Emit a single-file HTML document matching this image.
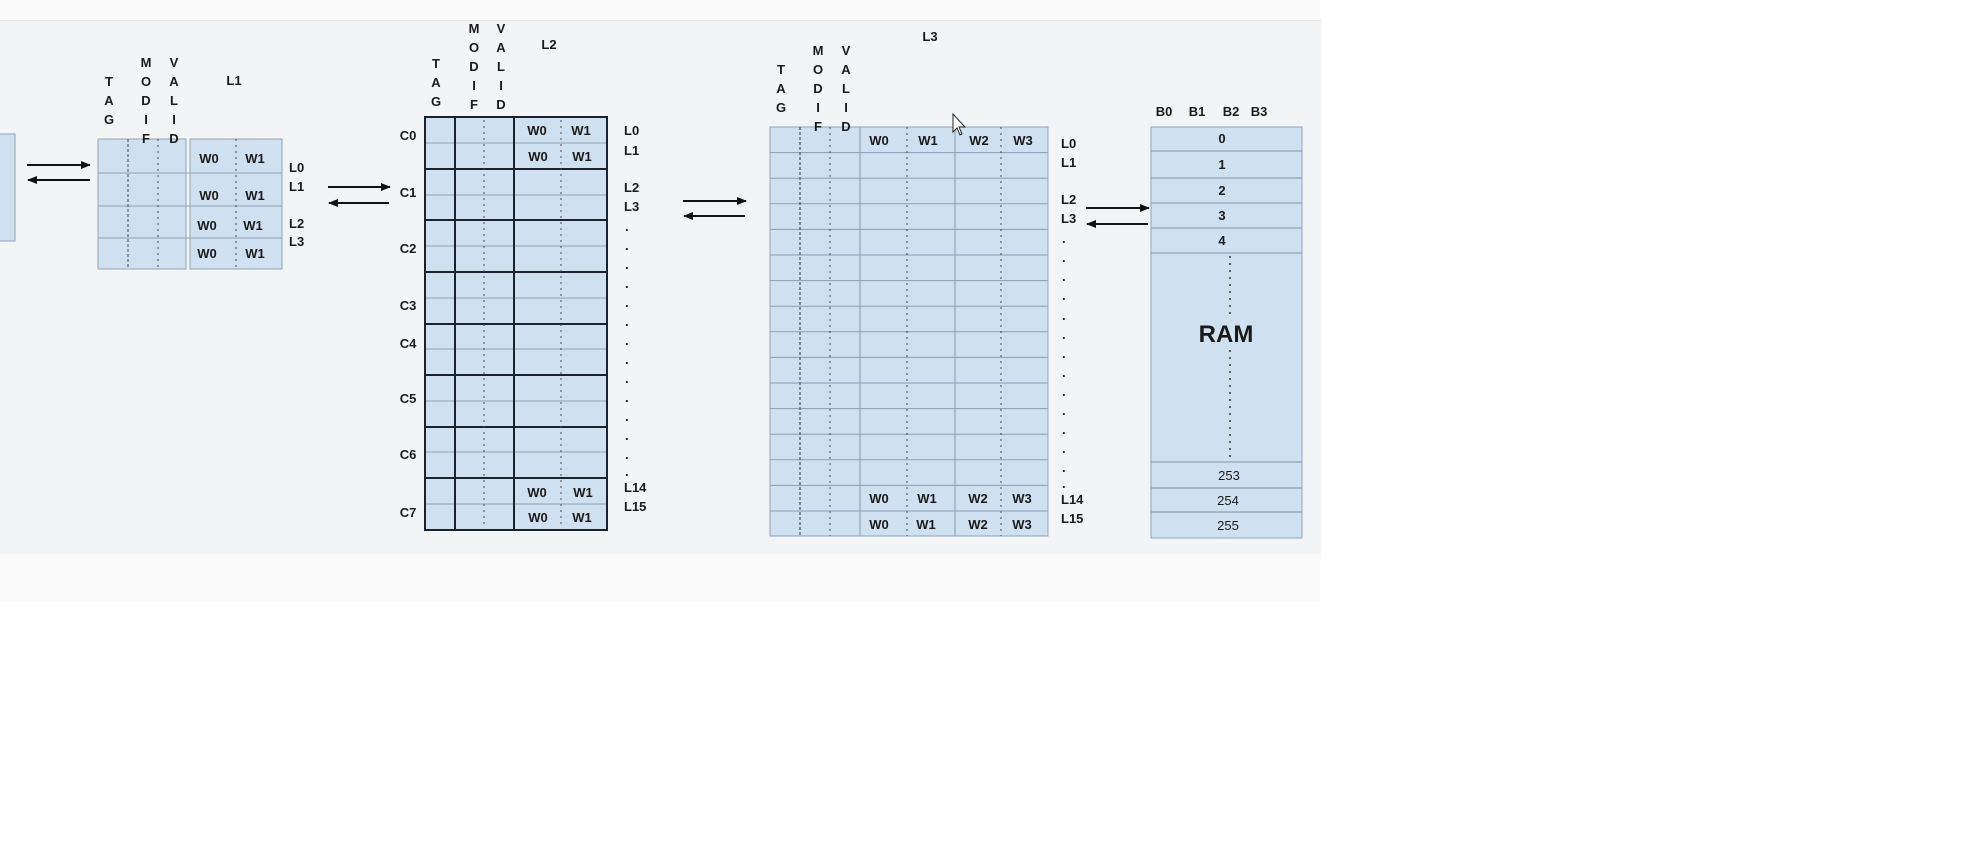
<!DOCTYPE html>
<html><head><meta charset="utf-8"><style>
html,body{margin:0;padding:0;background:#fff;}
svg{display:block;}
text{font-family:"Liberation Sans",Arial,sans-serif;font-weight:bold;font-size:13px;fill:#1a1a1a;}
.c{text-anchor:middle;}
</style></head><body>
<svg width="1976" height="855" viewBox="0 0 1976 855" xmlns="http://www.w3.org/2000/svg">
<defs>
<marker id="ah" markerWidth="10" markerHeight="8" refX="9" refY="4" orient="auto" markerUnits="userSpaceOnUse"><path d="M0,0 L10,4 L0,8 z" fill="#111"/></marker>
</defs>
<rect x="0" y="0" width="1321" height="20" fill="#fbfbfb"/>
<line x1="0" y1="20.5" x2="1321" y2="20.5" stroke="#e2e2e2"/>
<rect x="0" y="21" width="1321" height="533" fill="#f3f4f6"/>
<rect x="0" y="554" width="1321" height="48" fill="#fbfbfc"/>

<!-- stub -->
<rect x="-1" y="134" width="16" height="107" fill="#cfe0f1" stroke="#8fa3b8"/>
<!-- arrows stub-L1 -->
<line x1="27" y1="165" x2="90" y2="165" stroke="#111" stroke-width="2" marker-end="url(#ah)"/>
<line x1="90" y1="180" x2="28" y2="180" stroke="#111" stroke-width="2" marker-end="url(#ah)"/>

<!-- L1 -->
<g stroke="#8fa3b8" fill="#cfe0f1">
<rect x="98" y="139" width="88" height="130"/>
<rect x="190" y="139" width="92" height="130"/>
<line x1="98" y1="173" x2="282" y2="173"/><line x1="98" y1="206" x2="282" y2="206"/><line x1="98" y1="238" x2="282" y2="238"/>
</g>
<line x1="128" y1="139" x2="128" y2="269" stroke="#445" stroke-dasharray="3,2"/>
<line x1="158" y1="139" x2="158" y2="269" stroke="#445" stroke-dasharray="2,4"/>
<line x1="236" y1="139" x2="236" y2="269" stroke="#445" stroke-dasharray="2,4"/>
<g class="c">
<text x="209" y="163" class="c">W0</text><text x="255" y="163" class="c">W1</text>
<text x="209" y="200" class="c">W0</text><text x="255" y="200" class="c">W1</text>
<text x="207" y="230" class="c">W0</text><text x="253" y="230" class="c">W1</text>
<text x="207" y="258" class="c">W0</text><text x="255" y="258" class="c">W1</text>
</g>
<text x="289" y="172">L0</text><text x="289" y="191">L1</text><text x="289" y="228">L2</text><text x="289" y="246">L3</text>
<g class="c">
<text x="109" y="86" class="c">T</text><text x="109" y="105" class="c">A</text><text x="109" y="124" class="c">G</text>
<text x="146" y="67" class="c">M</text><text x="146" y="86" class="c">O</text><text x="146" y="105" class="c">D</text><text x="146" y="124" class="c">I</text><text x="146" y="143" class="c">F</text>
<text x="174" y="67" class="c">V</text><text x="174" y="86" class="c">A</text><text x="174" y="105" class="c">L</text><text x="174" y="124" class="c">I</text><text x="174" y="143" class="c">D</text>
</g>
<text x="234" y="85" class="c">L1</text>

<!-- arrows L1-L2 -->
<line x1="328" y1="187" x2="390" y2="187" stroke="#111" stroke-width="2" marker-end="url(#ah)"/>
<line x1="389" y1="203" x2="329" y2="203" stroke="#111" stroke-width="2" marker-end="url(#ah)"/>

<!-- L2 -->
<rect x="425" y="117" width="182" height="413" fill="#cfe0f1"/>
<g stroke="#8fa3b8">
<line x1="425" y1="143" x2="607" y2="143"/><line x1="425" y1="195" x2="607" y2="195"/><line x1="425" y1="246" x2="607" y2="246"/><line x1="425" y1="298" x2="607" y2="298"/><line x1="425" y1="349" x2="607" y2="349"/><line x1="425" y1="401" x2="607" y2="401"/><line x1="425" y1="452" x2="607" y2="452"/><line x1="425" y1="504" x2="607" y2="504"/>
</g>
<g stroke="#1a2230" stroke-width="2" fill="none">
<rect x="425" y="117" width="182" height="413"/>
<line x1="455" y1="117" x2="455" y2="530"/><line x1="514" y1="117" x2="514" y2="530"/>
<line x1="425" y1="169" x2="607" y2="169"/><line x1="425" y1="220" x2="607" y2="220"/><line x1="425" y1="272" x2="607" y2="272"/><line x1="425" y1="324" x2="607" y2="324"/><line x1="425" y1="375" x2="607" y2="375"/><line x1="425" y1="427" x2="607" y2="427"/><line x1="425" y1="478" x2="607" y2="478"/>
</g>
<line x1="484" y1="120" x2="484" y2="528" stroke="#445" stroke-dasharray="2,4"/>
<line x1="561" y1="120" x2="561" y2="528" stroke="#445" stroke-dasharray="2,4"/>
<text x="537" y="135" class="c">W0</text><text x="581" y="135" class="c">W1</text>
<text x="538" y="161" class="c">W0</text><text x="582" y="161" class="c">W1</text>
<text x="537" y="497" class="c">W0</text><text x="583" y="497" class="c">W1</text>
<text x="538" y="522" class="c">W0</text><text x="582" y="522" class="c">W1</text>
<text x="408" y="140" class="c">C0</text><text x="408" y="197" class="c">C1</text><text x="408" y="253" class="c">C2</text><text x="408" y="310" class="c">C3</text><text x="408" y="348" class="c">C4</text><text x="408" y="403" class="c">C5</text><text x="408" y="459" class="c">C6</text><text x="408" y="517" class="c">C7</text>
<text x="624" y="135">L0</text><text x="624" y="155">L1</text><text x="624" y="192">L2</text><text x="624" y="211">L3</text>
<text x="625" y="231">.</text><text x="625" y="250">.</text><text x="625" y="269">.</text><text x="625" y="288">.</text><text x="625" y="307">.</text><text x="625" y="326">.</text><text x="625" y="345">.</text><text x="625" y="364">.</text><text x="625" y="383">.</text><text x="625" y="402">.</text><text x="625" y="421">.</text><text x="625" y="440">.</text><text x="625" y="459">.</text><text x="625" y="476">.</text>
<text x="624" y="492">L14</text><text x="624" y="511">L15</text>
<text x="436" y="68" class="c">T</text><text x="436" y="87" class="c">A</text><text x="436" y="106" class="c">G</text>
<text x="474" y="33" class="c">M</text><text x="474" y="52" class="c">O</text><text x="474" y="71" class="c">D</text><text x="474" y="90" class="c">I</text><text x="474" y="109" class="c">F</text>
<text x="501" y="33" class="c">V</text><text x="501" y="52" class="c">A</text><text x="501" y="71" class="c">L</text><text x="501" y="90" class="c">I</text><text x="501" y="109" class="c">D</text>
<text x="549" y="49" class="c">L2</text>

<!-- arrows L2-L3 -->
<line x1="683" y1="201" x2="746" y2="201" stroke="#111" stroke-width="2" marker-end="url(#ah)"/>
<line x1="745" y1="216" x2="684" y2="216" stroke="#111" stroke-width="2" marker-end="url(#ah)"/>

<!-- L3 -->
<rect x="770" y="127" width="278" height="409" fill="#cfe0f1" stroke="#8fa3b8"/>
<g stroke="#8a9db3">
<line x1="770" y1="152.6" x2="1048" y2="152.6"/><line x1="770" y1="178.2" x2="1048" y2="178.2"/><line x1="770" y1="203.8" x2="1048" y2="203.8"/><line x1="770" y1="229.4" x2="1048" y2="229.4"/><line x1="770" y1="255" x2="1048" y2="255"/><line x1="770" y1="280.6" x2="1048" y2="280.6"/><line x1="770" y1="306.2" x2="1048" y2="306.2"/><line x1="770" y1="331.8" x2="1048" y2="331.8"/><line x1="770" y1="357.4" x2="1048" y2="357.4"/><line x1="770" y1="383" x2="1048" y2="383"/><line x1="770" y1="408.6" x2="1048" y2="408.6"/><line x1="770" y1="434.2" x2="1048" y2="434.2"/><line x1="770" y1="459.8" x2="1048" y2="459.8"/><line x1="770" y1="485.4" x2="1048" y2="485.4"/><line x1="770" y1="511" x2="1048" y2="511"/>
<line x1="860" y1="127" x2="860" y2="536"/><line x1="955" y1="127" x2="955" y2="536"/>
</g>
<line x1="800" y1="127" x2="800" y2="536" stroke="#334" stroke-dasharray="3,2"/>
<line x1="830" y1="127" x2="830" y2="536" stroke="#445" stroke-dasharray="2,4"/>
<line x1="907" y1="127" x2="907" y2="536" stroke="#445" stroke-dasharray="2,4"/>
<line x1="1001" y1="127" x2="1001" y2="536" stroke="#445" stroke-dasharray="2,4"/>
<text x="879" y="145" class="c">W0</text><text x="928" y="145" class="c">W1</text><text x="979" y="145" class="c">W2</text><text x="1023" y="145" class="c">W3</text>
<text x="879" y="503" class="c">W0</text><text x="927" y="503" class="c">W1</text><text x="978" y="503" class="c">W2</text><text x="1022" y="503" class="c">W3</text>
<text x="879" y="529" class="c">W0</text><text x="926" y="529" class="c">W1</text><text x="978" y="529" class="c">W2</text><text x="1022" y="529" class="c">W3</text>
<text x="1061" y="148">L0</text><text x="1061" y="167">L1</text><text x="1061" y="204">L2</text><text x="1061" y="223">L3</text>
<text x="1062" y="243">.</text><text x="1062" y="262">.</text><text x="1062" y="281">.</text><text x="1062" y="300">.</text><text x="1062" y="320">.</text><text x="1062" y="339">.</text><text x="1062" y="358">.</text><text x="1062" y="377">.</text><text x="1062" y="396">.</text><text x="1062" y="415">.</text><text x="1062" y="434">.</text><text x="1062" y="453">.</text><text x="1062" y="472">.</text><text x="1062" y="488">.</text>
<text x="1061" y="504">L14</text><text x="1061" y="523">L15</text>
<text x="781" y="74" class="c">T</text><text x="781" y="93" class="c">A</text><text x="781" y="112" class="c">G</text>
<text x="818" y="55" class="c">M</text><text x="818" y="74" class="c">O</text><text x="818" y="93" class="c">D</text><text x="818" y="112" class="c">I</text><text x="818" y="131" class="c">F</text>
<text x="846" y="55" class="c">V</text><text x="846" y="74" class="c">A</text><text x="846" y="93" class="c">L</text><text x="846" y="112" class="c">I</text><text x="846" y="131" class="c">D</text>
<text x="930" y="41" class="c">L3</text>
<!-- cursor -->
<path d="M953,114 L953,132 L957,128 L960,135 L962,134 L959,127 L965,127 z" fill="#fff" stroke="#222" stroke-width="1"/>

<!-- arrows L3-RAM -->
<line x1="1086" y1="208" x2="1149" y2="208" stroke="#111" stroke-width="2" marker-end="url(#ah)"/>
<line x1="1148" y1="224" x2="1087" y2="224" stroke="#111" stroke-width="2" marker-end="url(#ah)"/>

<!-- RAM -->
<rect x="1151" y="127" width="151" height="411" fill="#cfe0f1" stroke="#8fa3b8"/>
<g stroke="#7f92a8">
<line x1="1151" y1="151" x2="1302" y2="151"/><line x1="1151" y1="178" x2="1302" y2="178"/><line x1="1151" y1="203" x2="1302" y2="203"/><line x1="1151" y1="228" x2="1302" y2="228"/><line x1="1151" y1="253" x2="1302" y2="253"/><line x1="1151" y1="462" x2="1302" y2="462"/><line x1="1151" y1="488" x2="1302" y2="488"/><line x1="1151" y1="512" x2="1302" y2="512"/>
</g>
<line x1="1230" y1="256" x2="1230" y2="318" stroke="#333" stroke-width="1.5" stroke-dasharray="2,5"/>
<line x1="1230" y1="350" x2="1230" y2="460" stroke="#333" stroke-width="1.5" stroke-dasharray="2,5"/>
<text x="1222" y="143" class="c">0</text><text x="1222" y="169" class="c">1</text><text x="1222" y="195" class="c">2</text><text x="1222" y="220" class="c">3</text><text x="1222" y="245" class="c">4</text>
<text x="1229" y="480" class="c" style="font-weight:normal">253</text><text x="1228" y="505" class="c" style="font-weight:normal">254</text><text x="1228" y="530" class="c" style="font-weight:normal">255</text>
<text x="1226" y="342" class="c" style="font-size:24px">RAM</text>
<text x="1164" y="116" class="c">B0</text><text x="1197" y="116" class="c">B1</text><text x="1231" y="116" class="c">B2</text><text x="1259" y="116" class="c">B3</text>
</svg>
</body></html>
